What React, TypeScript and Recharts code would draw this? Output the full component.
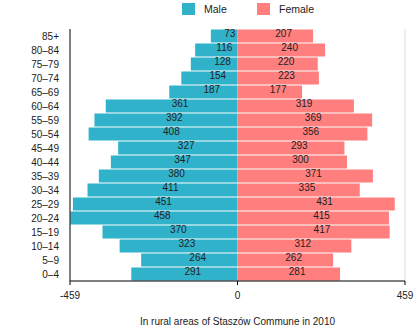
import React from 'react';
import { BarChart, Bar, XAxis, YAxis, Legend, LabelList, ReferenceLine } from 'recharts';

const ageGroups = ['85+', '80–84', '75–79', '70–74', '65–69', '60–64', '55–59', '50–54', '45–49', '40–44', '35–39', '30–34', '25–29', '20–24', '15–19', '10–14', '5–9', '0–4'];
const maleValues = [73, 116, 128, 154, 187, 361, 392, 408, 327, 347, 380, 411, 451, 458, 370, 323, 264, 291];
const femaleValues = [207, 240, 220, 223, 177, 319, 369, 356, 293, 300, 371, 335, 431, 415, 417, 312, 262, 281];
const xTicks = [-459, 0, 459];
const seriesNames = ['Male', 'Female'];
const caption = 'In rural areas of Staszów Commune in 2010';

const MALE_COLOR = '#31B2CB';
const FEMALE_COLOR = '#FF7F7F';
const FONT = '"Liberation Sans", Arial, Helvetica, sans-serif';
const TEXT = '#222';

const data = ageGroups.map((age, i) => ({ age, male: -maleValues[i], female: femaleValues[i] }));

const renderLabel = (props: any) => {
  const x = Number(props.x);
  const y = Number(props.y);
  const w = Number(props.width);
  const h = Number(props.height);
  const v = Math.abs(Number(props.value));
  return (
    <text x={x + w / 2} y={y + h / 2 + 1} fontSize={10} fill={TEXT} fontFamily={FONT} textAnchor="start">
      {v}
    </text>
  );
};

const LegendContent = () => (
  <div style={{ position: 'relative', width: 420, height: 20, fontFamily: FONT, fontSize: 10.5, color: TEXT }}>
    <span style={{ position: 'absolute', left: 182, top: 3, width: 13, height: 12, background: MALE_COLOR }} />
    <span style={{ position: 'absolute', left: 204, top: 3, lineHeight: '13px' }}>{seriesNames[0]}</span>
    <span style={{ position: 'absolute', left: 257, top: 3, width: 13, height: 12, background: FEMALE_COLOR }} />
    <span style={{ position: 'absolute', left: 279, top: 3, lineHeight: '13px' }}>{seriesNames[1]}</span>
  </div>
);

export default function App() {
  return (
    <div style={{ position: 'absolute', left: 0, top: 0, width: 420, height: 331, background: '#fff' }}>
      <BarChart
        width={420}
        height={331}
        data={data}
        layout="vertical"
        stackOffset="sign"
        barCategoryGap={0.5}
        margin={{ top: 9, right: 15, bottom: 4, left: 0 }}
      >
        <Legend
          verticalAlign="top"
          align="left"
          content={<LegendContent />}
          wrapperStyle={{ position: 'absolute', top: 0, left: 0, width: 420, height: 20 }}
        />
        <ReferenceLine x={459} stroke="#dddddd" ifOverflow="extendDomain" />
        <XAxis
          type="number"
          domain={[-459, 459]}
          ticks={xTicks}
          interval={0}
          height={46}
          tickSize={4}
          tickMargin={7}
          axisLine={{ stroke: '#000' }}
          tickLine={{ stroke: '#000' }}
          tick={{ fontSize: 10, fill: TEXT, fontFamily: FONT }}
          label={{ value: caption, position: 'insideBottom', offset: 2, fontSize: 10, fill: TEXT, fontFamily: FONT }}
        />
        <YAxis
          type="category"
          dataKey="age"
          width={70}
          interval={0}
          tickSize={0}
          tickMargin={11}
          tickLine={false}
          axisLine={{ stroke: '#000' }}
          tick={{ fontSize: 10, fill: TEXT, fontFamily: FONT }}
        />
        <Bar dataKey="male" name={seriesNames[0]} stackId="a" fill={MALE_COLOR} isAnimationActive={false}>
          <LabelList dataKey="male" content={renderLabel} />
        </Bar>
        <Bar dataKey="female" name={seriesNames[1]} stackId="a" fill={FEMALE_COLOR} isAnimationActive={false}>
          <LabelList dataKey="female" content={renderLabel} />
        </Bar>
      </BarChart>
    </div>
  );
}
